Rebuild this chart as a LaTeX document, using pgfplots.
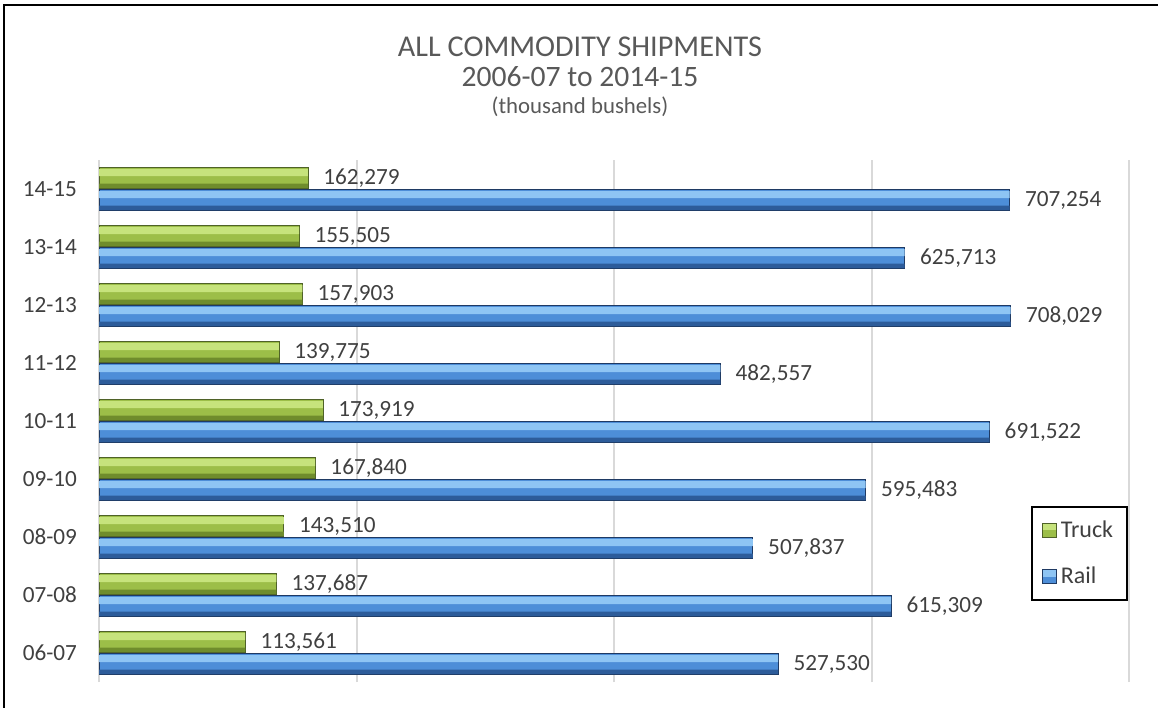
\documentclass[border=0pt]{standalone}
\usepackage{pgfplots}
\usepackage{pgfplotstable}
\usepackage{fontspec}
\setmainfont{Carlito}
\pgfplotsset{compat=1.18}

\definecolor{txt}{HTML}{404040}
\definecolor{ttl}{HTML}{595959}
\definecolor{gridc}{HTML}{D9D9D9}
\definecolor{gtop}{HTML}{C6E37C}
\definecolor{gmid}{HTML}{9CBE48}
\definecolor{gbot}{HTML}{6F8C2C}
\definecolor{gedge}{HTML}{4F6228}
\definecolor{btop}{HTML}{8EC5F4}
\definecolor{bmid}{HTML}{4D8ED8}
\definecolor{bbot}{HTML}{2D5C9A}
\definecolor{bedge}{HTML}{1F3A63}

% c = position, 0 = 06-07 ... 8 = 14-15
\pgfplotstableread{
c truck rail tlab rlab
0 113561 527530 113,561 527,530
1 137687 615309 137,687 615,309
2 143510 507837 143,510 507,837
3 167840 595483 167,840 595,483
4 173919 691522 173,919 691,522
5 139775 482557 139,775 482,557
6 157903 708029 157,903 708,029
7 155505 625713 155,505 625,713
8 162279 707254 162,279 707,254
}\shipments

\begin{document}
\begin{tikzpicture}
\useasboundingbox (-49.5bp,-13bp) rectangle (529.5bp,341bp);
% outer chart frame (only top and left edges fall inside the picture)
\draw[line width=1.2bp, black] (-47.5bp,-14bp) -- (-47.5bp,338.5bp) -- (531bp,338.5bp);

\node[text=ttl, font=\fontsize{15.1bp}{18bp}\selectfont] at (240.5bp,317.5bp) {ALL COMMODITY SHIPMENTS};
\node[text=ttl, font=\fontsize{14.8bp}{17bp}\selectfont] at (240.5bp,302.5bp) {2006-07 to 2014-15};
\node[text=ttl, font=\fontsize{11.4bp}{13bp}\selectfont] at (240.5bp,287.5bp) {(thousand bushels)};

\begin{axis}[
    xbar,
    scale only axis,
    width=515bp,
    height=261bp,
    xmin=0, xmax=800000,
    ymin=-0.5, ymax=8.5,
    xtick={0,200000,400000,600000,800000},
    xticklabels={},
    scaled x ticks=false,
    ytick={0,...,8},
    yticklabels={06-07,07-08,08-09,09-10,10-11,11-12,12-13,13-14,14-15},
    major tick length=0,
    xmajorgrids,
    grid style={gridc, line width=1bp},
    axis line style={draw=none},
    yticklabel style={font=\fontsize{11.6bp}{14bp}\selectfont, text=txt, xshift=-7.5bp},
    /pgf/number format/assume math mode=true,
    point meta=explicit symbolic,
    every node near coord/.append style={anchor=west, inner sep=0pt, xshift=7.5bp,
        font=\fontsize{11.6bp}{14bp}\selectfont, text=txt},
    legend cell align=left,
    legend style={at={(0.999,0.337)}, anchor=north east, draw=black, line width=0.9bp,
        inner xsep=5bp, inner ysep=0bp, row sep=0bp,
        font=\fontsize{12bp}{14bp}\selectfont, text=txt,
        nodes={minimum height=23.25bp, inner ysep=0pt}},
]
% Truck: base bar, then light top band and dark bottom band for the bevel look
\addplot[bar width=10.5bp, bar shift=5.5bp, draw=gedge, line width=0.4bp, fill=gmid,
    nodes near coords,
    legend image code/.code={%
      \draw[gedge, line width=0.4bp, fill=gmid] (0bp,-3.5bp) rectangle (7bp,3.5bp);
      \fill[gtop] (0.4bp,0.3bp) rectangle (6.6bp,3.1bp);}]
    table[x=truck, y=c, meta=tlab] {\shipments};
\addlegendentry{Truck}
\addplot[forget plot, bar width=3.6bp, bar shift=8.2bp, draw=none, fill=gtop]
    table[x=truck, y=c] {\shipments};
\addplot[forget plot, bar width=2.2bp, bar shift=1.6bp, draw=none, fill=gbot]
    table[x=truck, y=c] {\shipments};
% Rail
\addplot[bar width=10.5bp, bar shift=-5.5bp, draw=bedge, line width=0.4bp, fill=bmid,
    nodes near coords,
    legend image code/.code={%
      \draw[bedge, line width=0.4bp, fill=bmid] (0bp,-3.5bp) rectangle (7bp,3.5bp);
      \fill[btop] (0.4bp,0.3bp) rectangle (6.6bp,3.1bp);}]
    table[x=rail, y=c, meta=rlab] {\shipments};
\addlegendentry{Rail}
\addplot[forget plot, bar width=3.6bp, bar shift=-2.8bp, draw=none, fill=btop]
    table[x=rail, y=c] {\shipments};
\addplot[forget plot, bar width=2.2bp, bar shift=-9.4bp, draw=none, fill=bbot]
    table[x=rail, y=c] {\shipments};
\end{axis}
\end{tikzpicture}
\end{document}
